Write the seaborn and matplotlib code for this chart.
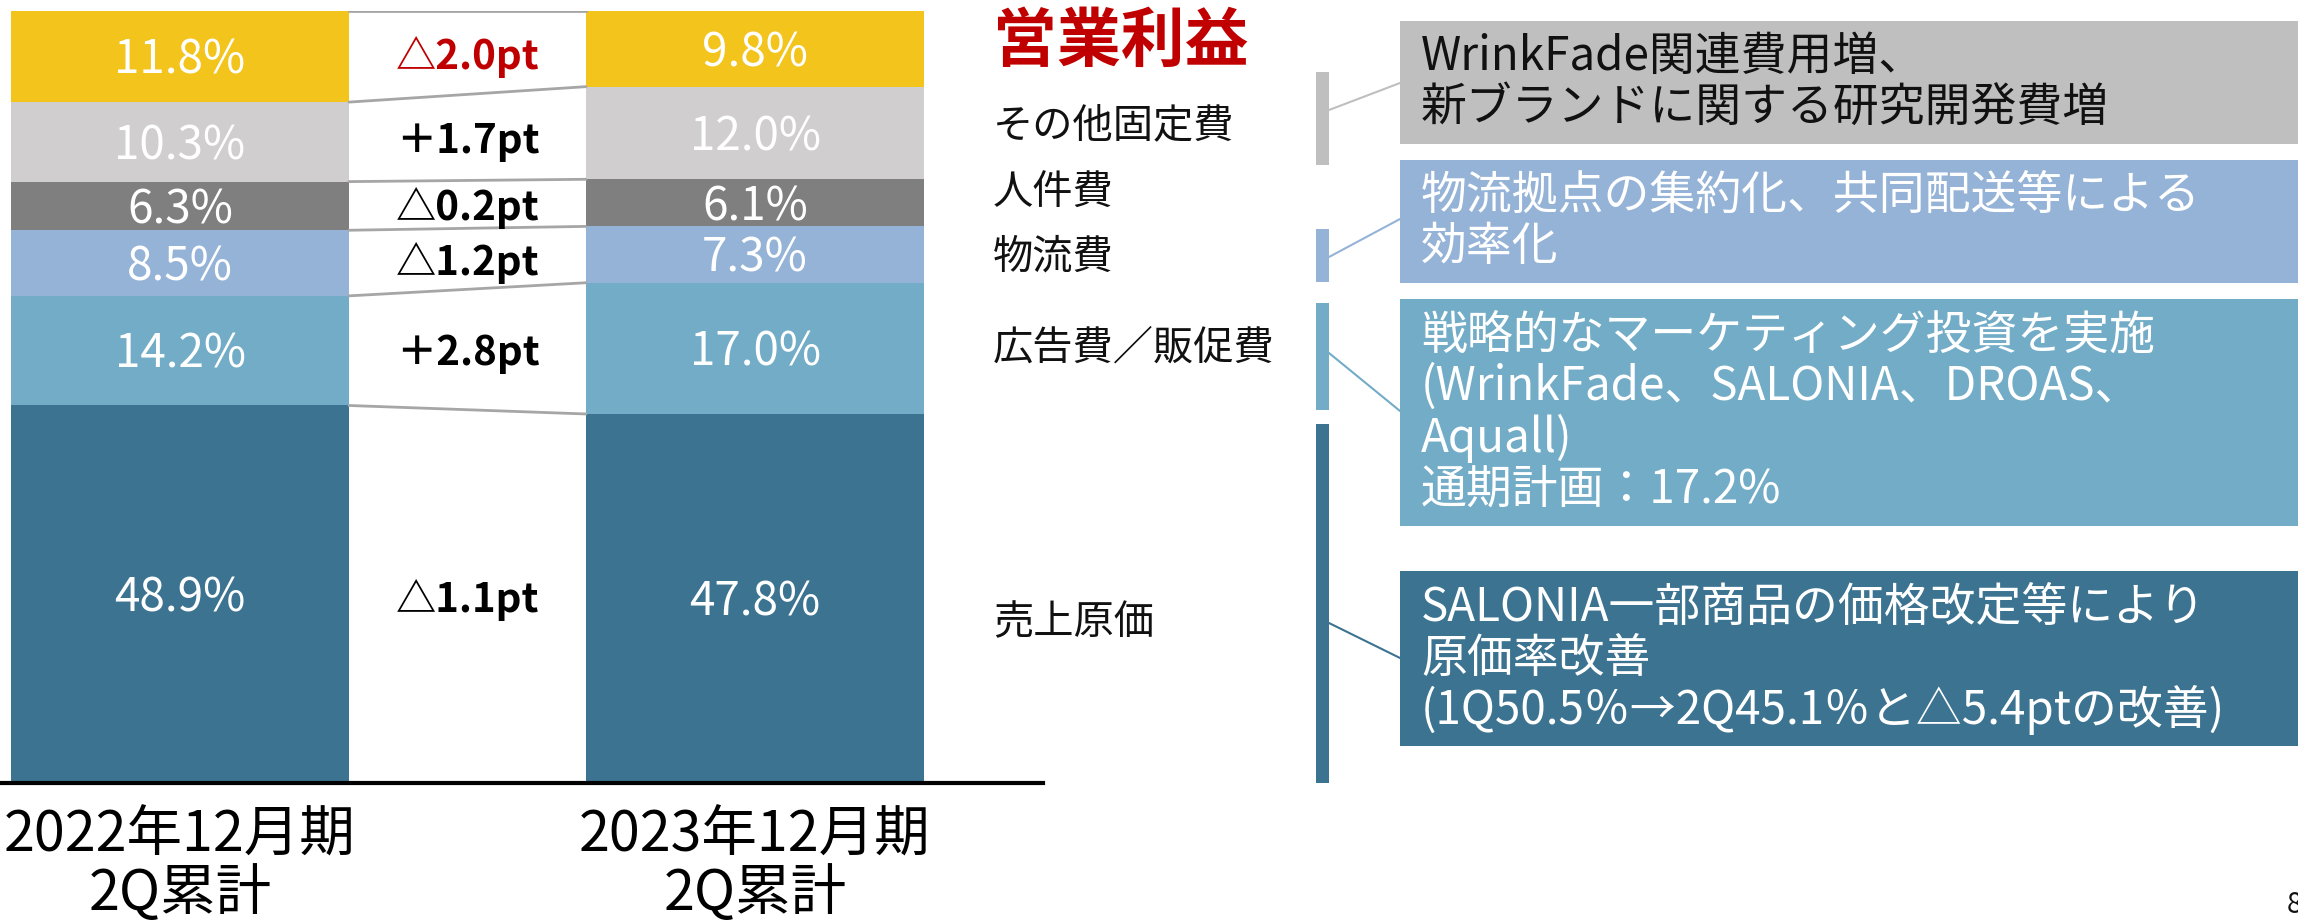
import numpy as np
import pandas as pd
import matplotlib
matplotlib.use("Agg")
import matplotlib.pyplot as plt
import matplotlib.transforms as mtransforms
import seaborn as sns
from matplotlib.patches import Rectangle

# ---------------- data ----------------
periods = ["2022年12月期\n2Q累計", "2023年12月期\n2Q累計"]
segments = ["売上原価", "広告費／販促費", "物流費", "人件費", "その他固定費", "営業利益"]  # bottom -> top
ratio_2022 = [48.9, 14.2, 8.5, 6.3, 10.3, 11.8]
ratio_2023 = [47.8, 17.0, 7.3, 6.1, 12.0, 9.8]
seg_colors = ["#3B7390", "#72ACC7", "#95B3D7", "#7F7F7F", "#D0CECE", "#F2C41C"]

title_text = "営業利益"
side_labels = ["その他固定費", "人件費", "物流費", "広告費／販促費", "売上原価"]
notes = [
    ["WrinkFade関連費用増、", "新ブランドに関する研究開発費増"],
    ["物流拠点の集約化、共同配送等による", "効率化"],
    ["戦略的なマーケティング投資を実施", "(WrinkFade、SALONIA、DROAS、", "Aquall)", "通期計画：17.2%"],
    ["SALONIA一部商品の価格改定等により", "原価率改善", "(1Q50.5％→2Q45.1％と△5.4ptの改善)"],
]
note_colors = ["#BFBFBF", "#95B3D7", "#72ACC7", "#3B7390"]
note_text_colors = ["#111111", "white", "white", "white"]
page_no = "8"

# ---------------- style ----------------
sns.set_theme(style="white")
plt.rcParams["font.family"] = ["Noto Sans CJK JP", "DejaVu Sans"]

W, H = 2298, 922
fig = plt.figure(figsize=(W / 100, H / 100), dpi=100)
fig.patch.set_facecolor("white")

base_px, top_px = 783, 11
ax = fig.add_axes([0, 1 - base_px / H, 1043 / W, (base_px - top_px) / H])

# long-form frame of cumulative tops, drawn tallest first so lower segments overlay
vals = np.array([ratio_2022, ratio_2023])
cum_top = np.cumsum(vals, axis=1)
cum_bot = cum_top - vals
rows = []
for i, p in enumerate(periods):
    for j, s in enumerate(segments):
        rows.append({"period": p, "segment": s, "top": cum_top[i, j]})
df = pd.DataFrame(rows)

bar_w = 338 / 575
sns.barplot(data=df, x="period", y="top", hue="segment",
            hue_order=segments[::-1], palette=dict(zip(segments, seg_colors)),
            dodge=False, width=bar_w, saturation=1, errorbar=None,
            legend=False, ax=ax, linewidth=0)

ax.set_xlim(-180 / 575, (1043 - 180) / 575)
ax.set_ylim(0, 100)

# connector lines between bar boundaries
for j in range(len(segments)):
    ax.plot([0 + bar_w / 2, 1 - bar_w / 2], [cum_top[0, j], cum_top[1, j]],
            color="#A6A6A6", lw=2, zorder=3)

lbl_tr = mtransforms.offset_copy(ax.transData, fig=fig, y=-4, units="dots")
# value labels
for i in range(2):
    for j in range(len(segments)):
        mid = cum_bot[i, j] + vals[i, j] / 2
        ax.text(i, mid, f"{vals[i, j]:.1f}%", ha="center", va="center",
                color="white", fontsize=33, zorder=4, transform=lbl_tr)

# change labels
for j, s in enumerate(segments):
    d = round(vals[1, j] - vals[0, j], 1)
    mid = ((cum_bot[0, j] + vals[0, j] / 2) + (cum_bot[1, j] + vals[1, j] / 2)) / 2
    pref = "△" if d < 0 else "＋"
    ax.text(0.5, mid, f"{pref}{abs(d):.1f}pt", ha="center", va="center",
            fontsize=29, fontweight="bold",
            color="#C00000" if s == "営業利益" else "black", zorder=4,
            transform=lbl_tr)

for sp in ["left", "right", "top"]:
    ax.spines[sp].set_visible(False)
ax.spines["bottom"].set_color("black")
ax.spines["bottom"].set_linewidth(3)
ax.set_yticks([])
ax.set_xlabel("")
ax.set_ylabel("")
ax.tick_params(axis="x", length=0, pad=17, labelsize=40, colors="black")
for t in ax.get_xticklabels():
    t.set_linespacing(1.02)
ax.set_facecolor("none")

# ---------------- right side annotation panel (pixel coords) ----------------
ov = fig.add_axes([0, 0, 1, 1])
ov.set_xlim(0, W)
ov.set_ylim(H, 0)
ov.axis("off")
ov.patch.set_alpha(0)

ov.text(993, 42, title_text, ha="left", va="center", fontsize=46,
        fontweight="bold", color="#C00000")

label_y = [127, 193, 257, 348, 623]
for lab, y in zip(side_labels, label_y):
    ov.text(993, y, lab, ha="left", va="center", fontsize=29, color="#111111")

brackets = [(72, 165), (229, 282), (303, 410), (424, 783)]
boxes = [(21, 144), (160, 283), (299, 526), (571, 746)]
links = [((1329, 110), (1400, 83)), ((1329, 257), (1400, 219)),
         ((1329, 353), (1400, 411)), ((1329, 623), (1400, 658))]
for k in range(4):
    c = note_colors[k]
    y0, y1 = brackets[k]
    ov.add_patch(Rectangle((1316, y0), 13, y1 - y0, color=c, lw=0))
    b0, b1 = boxes[k]
    ov.add_patch(Rectangle((1400, b0), W - 1400, b1 - b0, color=c, lw=0))
    (xa, ya), (xb, yb) = links[k]
    ov.plot([xa, xb], [ya, yb], color=c, lw=1.5)
    lines = notes[k]
    cy = (b0 + b1) / 2
    n = len(lines)
    for li, line in enumerate(lines):
        y = cy + (li - (n - 1) / 2) * 51
        ov.text(1421, y, line, ha="left", va="center", fontsize=33,
                color=note_text_colors[k])

ov.text(2287, 905, page_no, ha="left", va="center", fontsize=20, color="#111111")

fig.savefig("out.png", dpi=100, facecolor="white")
